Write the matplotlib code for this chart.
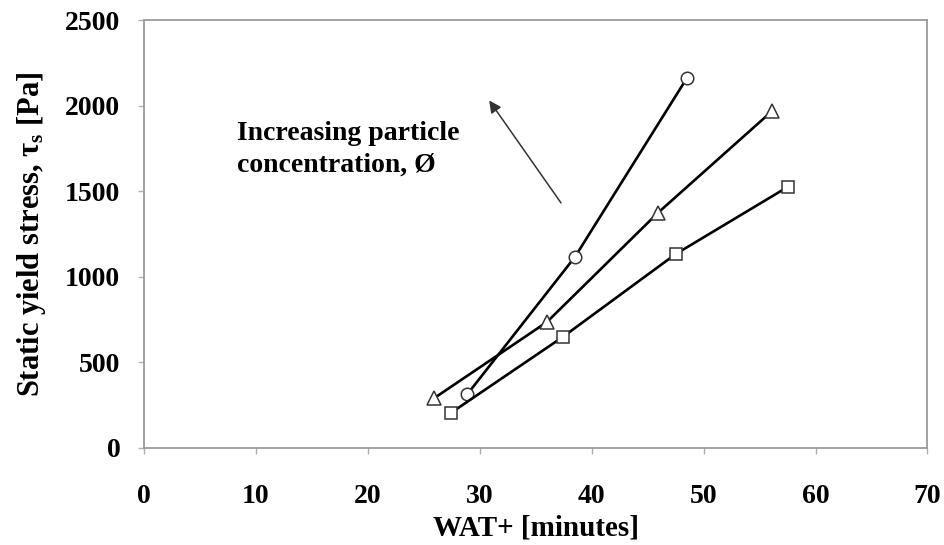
import matplotlib
matplotlib.use("Agg")
import matplotlib.pyplot as plt

plt.rcParams['font.family'] = ['Liberation Serif', 'DejaVu Serif']
plt.rcParams['font.weight'] = 'bold'
plt.rcParams['mathtext.fontset'] = 'custom'
plt.rcParams['mathtext.rm'] = 'Liberation Serif:bold'
plt.rcParams['mathtext.it'] = 'Liberation Serif:bold'
plt.rcParams['mathtext.bf'] = 'Liberation Serif:bold'

# Data
circle_x = [28.9, 38.5, 48.5]
circle_y = [315, 1116, 2161]
triangle_x = [25.9, 36.0, 45.9, 56.1]
triangle_y = [290, 736, 1373, 1968]
square_x = [27.4, 37.4, 47.5, 57.5]
square_y = [204, 648, 1133, 1525]

xticks = [0, 10, 20, 30, 40, 50, 60, 70]
yticks = [0, 500, 1000, 1500, 2000, 2500]

fig = plt.figure(figsize=(9.44, 5.45), dpi=100)
ax = fig.add_axes([0.1525, 0.178, 0.83, 0.785])

mk = dict(color='black', lw=1.9, markerfacecolor='white', markeredgecolor='#333333',
          markeredgewidth=1.1, zorder=3)
ax.plot(circle_x, circle_y, marker='o', markersize=9, **mk)
ax.plot(triangle_x, triangle_y, marker='^', markersize=9.5, **mk)
ax.plot(square_x, square_y, marker='s', markersize=9, **mk)

ax.set_xlim(0, 70)
ax.set_ylim(0, 2500)
ax.set_xticks(xticks)
ax.set_yticks(yticks)
ax.tick_params(axis='both', direction='out', length=4, width=1, color='#b0b0b0',
               labelsize=20)
ax.tick_params(axis='x', pad=22)
ax.tick_params(axis='y', pad=13)
for lbl in ax.get_xticklabels() + ax.get_yticklabels():
    lbl.set_fontweight('bold')
for s in ax.spines.values():
    s.set_color('#9a9a9a')
    s.set_linewidth(1.3)

ax.set_xlabel('WAT+ [minutes]', fontsize=21, fontweight='bold', labelpad=4)
ax.set_ylabel(r'Static yield stress, τ$_{\mathrm{s}}$ [Pa]', fontsize=22,
              fontweight='bold', labelpad=12)

ax.annotate('', xy=(30.7, 2044), xytext=(37.4, 1419),
            arrowprops=dict(arrowstyle='-|>', color='#333333', lw=1.1,
                            mutation_scale=18))
ax.text(8.3, 1745, 'Increasing particle\nconcentration, Ø', fontsize=20,
        fontweight='bold', ha='left', va='center', linespacing=1.4)

fig.savefig('out.png', dpi=100)
